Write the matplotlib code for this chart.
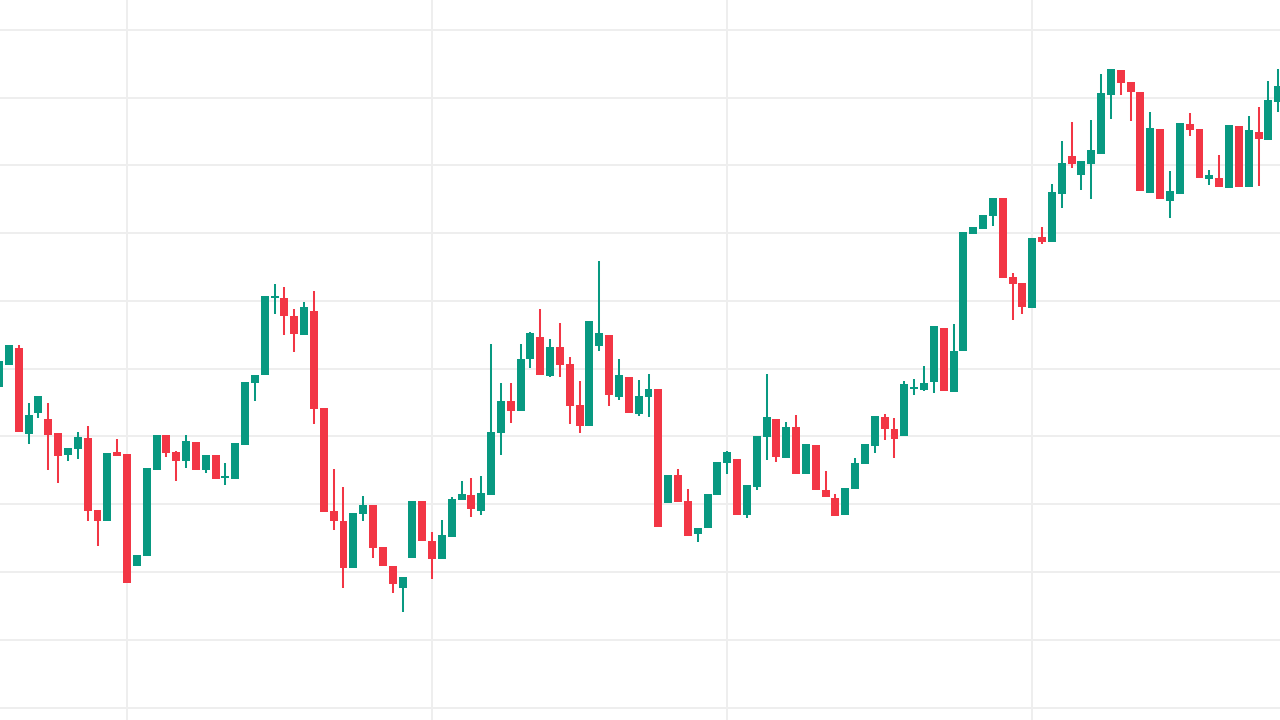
import matplotlib
matplotlib.use("Agg")
import matplotlib.pyplot as plt
import numpy as np

# OHLC values (arbitrary price units)
opens = [333, 355, 372, 286, 307, 301, 287, 265, 271, 282,
         210, 199, 268, 266, 154, 164, 250, 285, 268, 259,
         278, 250, 265, 242, 241, 275, 337, 345, 422.5, 422,
         404, 385, 409, 312, 209, 199, 152, 206, 215, 173,
         154, 132, 162, 219, 179, 161, 183, 220, 225, 209,
         225, 287, 319, 309, 361, 383, 344, 373, 356, 315,
         294, 374, 385, 323, 343, 306, 323, 331, 217, 245,
         219, 186, 192, 225, 257, 261, 205, 233, 283, 301,
         262, 293, 246, 275, 230, 222, 205, 231, 256, 274,
         303, 291, 284, 331.5, 330, 338, 392, 328, 369, 486,
         491, 504, 522, 443, 437, 412, 483, 478, 526, 564,
         545, 556, 566, 625, 650, 638, 628, 527, 591, 519,
         526, 596, 591, 541, 542, 532, 594, 533, 588, 580,
         618]
highs = [361, 375, 375, 317, 324, 317, 287, 272, 288, 294,
         210, 267, 281, 266, 165, 252, 285, 285, 269, 285,
         278, 265, 265, 257, 277, 338, 345, 424, 436, 433,
         411, 418, 429, 312, 251, 233, 207, 224, 215, 173,
         154, 143, 219, 219, 188, 200, 223, 239, 242, 244,
         376, 337, 337, 376, 388, 411, 381, 397, 363, 339,
         399, 459, 385, 361, 343, 340, 346, 331, 245, 251,
         231, 192, 226, 258, 269, 261, 235, 284, 346, 301,
         298, 305, 276, 275, 249, 226, 232, 262, 276, 304,
         306, 302, 339, 341, 354, 394, 392, 396, 488, 493,
         505, 522, 522, 447, 437, 482, 493, 536, 579, 598,
         559, 600, 646, 651, 650, 638, 628, 608, 591, 549,
         597, 607, 591, 550, 565, 595, 594, 604, 613, 639,
         651]
lows = [332, 355, 288, 276, 302, 250, 237, 259, 261, 199,
        174, 199, 264, 137, 154, 164, 250, 263, 239, 252,
        250, 247, 241, 235, 241, 275, 319, 345, 406, 385,
        368, 385, 296, 208, 190, 132, 152, 199, 162, 154,
        127, 108, 162, 179, 141, 161, 183, 220, 203, 205,
        225, 265, 297, 309, 352, 345, 343, 343, 296, 287,
        294, 369, 314, 320, 307, 304, 303, 193, 217, 218,
        184, 178, 192, 225, 246, 205, 202, 230, 260, 258,
        262, 246, 246, 230, 223, 204, 205, 231, 256, 267,
        280, 262, 284, 325, 329, 327, 329, 328, 369, 486,
        491, 494, 442, 400, 406, 412, 476, 478, 512, 552,
        530, 521, 566, 601, 625, 599, 529, 527, 521, 502,
        526, 584, 542, 535, 533, 532, 533, 533, 534, 580,
        608]
closes = [359, 375, 288, 305, 324, 285, 264, 272, 283, 209,
          199, 267, 264, 137, 165, 252, 285, 267, 259, 279,
          250, 265, 241, 244, 277, 338, 345, 424, 424, 404,
          386, 413, 311, 208, 199, 152, 207, 215, 172, 154,
          136, 143, 219, 179, 161, 185, 221, 226, 211, 227,
          288, 319, 309, 361, 387, 345, 373, 355, 314, 294,
          399, 387, 325, 345, 307, 324, 331, 193, 245, 218,
          184, 192, 226, 258, 268, 205, 235, 284, 303, 263,
          293, 246, 276, 230, 223, 204, 232, 257, 276, 304,
          291, 281, 336, 333, 337, 394, 329, 369, 488, 493,
          505, 522, 442, 436, 413, 482, 478, 528, 557, 556,
          559, 570, 627, 651, 637, 628, 529, 592, 521, 529,
          597, 590, 542, 545, 533, 595, 533, 590, 581, 620,
          634]
grid_levels = [12, 80, 148, 216, 284, 351, 419, 487, 555, 622, 690]
time_grid_idx = [13, 44, 74, 105]

UP = "#089981"
DOWN = "#F23645"
GRID = "#eeeeee"

o = np.array(opens, float)
h = np.array(highs, float)
l = np.array(lows, float)
c = np.array(closes, float)
idx = np.arange(len(o))
up = c >= o
colors = np.where(up, UP, DOWN)

fig = plt.figure(figsize=(12.8, 7.2), dpi=100)
ax = fig.add_axes([0, 0, 1, 1])
ax.set_facecolor("white")

for g in grid_levels:
    ax.axhline(g, color=GRID, lw=1.4, zorder=0)
for t in time_grid_idx:
    ax.axvline(t, color=GRID, lw=1.4, zorder=0)

ax.vlines(idx, l, h, colors=colors, lw=1.45, zorder=2)
bottom = np.minimum(o, c)
height = np.maximum(np.abs(c - o), 1.6)
ax.bar(idx, height, bottom=bottom, width=0.81, color=colors, zorder=3, linewidth=0)

ax.set_xlim(0.09, 130.18)
ax.set_ylim(0, 720)
for s in ax.spines.values():
    s.set_visible(False)
ax.set_xticks([])
ax.set_yticks([])

fig.savefig("out.png", dpi=100, facecolor="white")
